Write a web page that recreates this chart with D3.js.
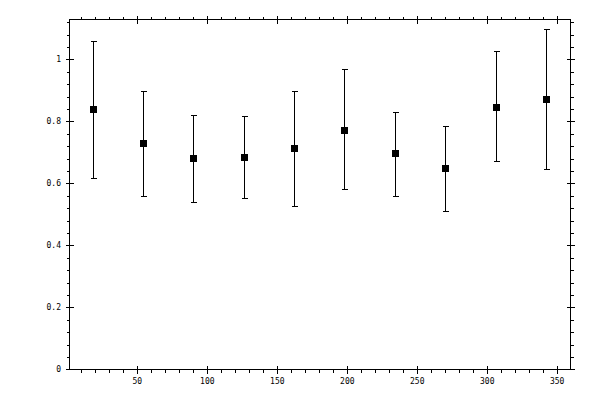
<!DOCTYPE html>
<html><head><meta charset="utf-8">
<script src="https://cdn.jsdelivr.net/npm/d3@7"></script>
<style>body{margin:0;background:#fff}</style>
</head><body>
<svg id="c" width="600" height="400"></svg>
<script>
const xs = [18, 54, 90, 126, 162, 198, 234, 270, 306, 342];
const means = [0.839, 0.729, 0.681, 0.684, 0.713, 0.774, 0.697, 0.649, 0.848, 0.874];
const uppers = [1.060, 0.899, 0.821, 0.818, 0.899, 0.968, 0.832, 0.784, 1.026, 1.097];
const lowers = [0.616, 0.559, 0.539, 0.552, 0.526, 0.581, 0.558, 0.510, 0.671, 0.648];
const xMajor = [50, 100, 150, 200, 250, 300, 350];
const yMajor = [0, 0.2, 0.4, 0.6, 0.8, 1];
const yLabels = ["0", "0.2", "0.4", "0.6", "0.8", "1"];

const svg = d3.select("#c");
const L = 69.5, R = 570.5, T = 19.5, B = 369.8;
const x = d3.scaleLinear().domain([1.5, 359.5]).range([L, R]);
const y = d3.scaleLinear().domain([-0.0015, 1.129]).range([B, T]);

const g = svg.append("g").attr("shape-rendering", "crispEdges").attr("stroke", "#000").attr("stroke-width", 1);
g.append("rect").attr("x", L).attr("y", T).attr("width", R - L).attr("height", B - T).attr("fill", "none");

const xMinor = d3.range(10, 360, 10).filter(v => v % 50 !== 0);
const yMinor = d3.range(0.04, 1.13, 0.04).filter((v, i) => (i + 1) % 5 !== 0);

// x ticks bottom & top
xMajor.forEach(v => {
  const px = Math.round(x(v)) + 0.5;
  g.append("line").attr("x1", px).attr("x2", px).attr("y1", B - 4).attr("y2", B + 4);
  g.append("line").attr("x1", px).attr("x2", px).attr("y1", T - 4).attr("y2", T + 4);
});
xMinor.forEach(v => {
  const px = Math.round(x(v)) + 0.5;
  g.append("line").attr("x1", px).attr("x2", px).attr("y1", B).attr("y2", B + 3);
  g.append("line").attr("x1", px).attr("x2", px).attr("y1", T - 3).attr("y2", T);
});
yMajor.forEach(v => {
  const py = Math.round(y(v)) + 0.5;
  g.append("line").attr("x1", L - 4).attr("x2", L + 4).attr("y1", py).attr("y2", py);
  g.append("line").attr("x1", R - 4).attr("x2", R + 4).attr("y1", py).attr("y2", py);
});
yMinor.forEach(v => {
  const py = Math.round(y(v)) + 0.5;
  g.append("line").attr("x1", L - 3).attr("x2", L).attr("y1", py).attr("y2", py);
  g.append("line").attr("x1", R).attr("x2", R + 3).attr("y1", py).attr("y2", py);
});

const font = "'DejaVu Sans Mono', monospace";
svg.append("g").selectAll("text").data(xMajor).join("text")
  .attr("x", d => x(d)).attr("y", 384)
  .attr("text-anchor", "middle").attr("font-family", font).attr("font-size", 8).text(d => d);
svg.append("g").selectAll("text").data(yMajor).join("text")
  .attr("x", 61).attr("y", d => y(d)).attr("dy", "0.35em")
  .attr("text-anchor", "end").attr("font-family", font).attr("font-size", 8).text((d, i) => yLabels[i]);

// error bars
const eb = svg.append("g").attr("stroke", "#000").attr("stroke-width", 1).attr("shape-rendering", "crispEdges");
xs.forEach((xv, i) => {
  const px = Math.round(x(xv)) + 0.5;
  eb.append("line").attr("x1", px).attr("x2", px).attr("y1", Math.round(y(uppers[i])) + 0.5).attr("y2", Math.round(y(lowers[i])) + 0.5);
  eb.append("line").attr("x1", px - 3).attr("x2", px + 3).attr("y1", Math.round(y(uppers[i])) + 0.5).attr("y2", Math.round(y(uppers[i])) + 0.5);
  eb.append("line").attr("x1", px - 3).attr("x2", px + 3).attr("y1", Math.round(y(lowers[i])) + 0.5).attr("y2", Math.round(y(lowers[i])) + 0.5);
});
svg.append("g").selectAll("rect").data(xs).join("rect")
  .attr("shape-rendering", "crispEdges")
  .attr("x", d => Math.round(x(d)) - 3).attr("y", (d, i) => Math.round(y(means[i])) - 3)
  .attr("width", 7).attr("height", 7).attr("fill", "#000");
</script>
</body></html>
